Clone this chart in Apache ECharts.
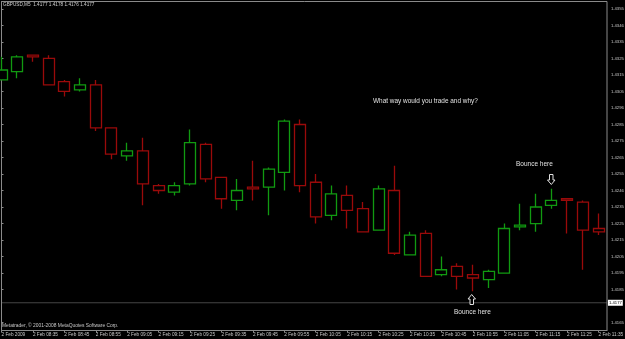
<!DOCTYPE html>
<html><head><meta charset="utf-8">
<script src="https://cdn.jsdelivr.net/npm/echarts@6/dist/echarts.min.js"></script>
<style>html,body{margin:0;padding:0;background:#000;}#c{width:625px;height:339px;}</style>
</head><body><div id="c"></div>
<script>
const times = ['08:25','08:30','08:35','08:40','08:45','08:50','08:55','09:00','09:05','09:10','09:15','09:20','09:25','09:30','09:35','09:40','09:45','09:50','09:55','10:00','10:05','10:10','10:15','10:20','10:25','10:30','10:35','10:40','10:45','10:50','10:55','11:00','11:05','11:10','11:15','11:20','11:25','11:30','11:35'];
const opens  = [1.4312,1.4317,1.4327,1.4325,1.4311,1.4306,1.4309,1.4283,1.4266,1.4269,1.4248,1.4244,1.4249,1.4273,1.4253,1.4239,1.4247,1.4247,1.4256,1.4285,1.4250,1.4230,1.4242,1.4234,1.4221,1.4245,1.4206,1.4219,1.4194,1.4199,1.4194,1.4191,1.4195,1.4223,1.4225,1.4236,1.4240,1.4238,1.4222];
const closes = [1.4318,1.4326,1.4326,1.4309,1.4305,1.4309,1.4283,1.4267,1.4269,1.4249,1.4245,1.4248,1.4274,1.4252,1.4240,1.4245,1.4246,1.4258,1.4287,1.4248,1.4229,1.4243,1.4233,1.4220,1.4246,1.4207,1.4218,1.4193,1.4197,1.4193,1.4192,1.4196,1.4222,1.4224,1.4235,1.4239,1.4239,1.4221,1.4220];
const lows   = [1.4312,1.4313,1.4323,1.4309,1.4302,1.4305,1.4281,1.4264,1.4263,1.4236,1.4243,1.4242,1.4248,1.4250,1.4234,1.4233,1.4239,1.4230,1.4245,1.4244,1.4225,1.4227,1.4222,1.4220,1.4221,1.4206,1.4206,1.4193,1.4193,1.4185,1.4184,1.4186,1.4195,1.4221,1.4220,1.4234,1.4219,1.4197,1.4218];
const highs  = [1.4326,1.4327,1.4327,1.4327,1.4312,1.4313,1.4312,1.4283,1.4274,1.4277,1.4249,1.4250,1.4282,1.4274,1.4253,1.4252,1.4263,1.4259,1.4288,1.4288,1.4255,1.4248,1.4248,1.4238,1.4248,1.4260,1.4220,1.4221,1.4205,1.4201,1.4200,1.4197,1.4225,1.4237,1.4243,1.4246,1.4240,1.4239,1.4231];
const xTickLabels = ['2 Feb 2009','2 Feb 08:35','2 Feb 08:45','2 Feb 08:55','2 Feb 09:05','2 Feb 09:15','2 Feb 09:25','2 Feb 09:35','2 Feb 09:45','2 Feb 09:55','2 Feb 10:05','2 Feb 10:15','2 Feb 10:25','2 Feb 10:35','2 Feb 10:45','2 Feb 10:55','2 Feb 11:05','2 Feb 11:15','2 Feb 11:25','2 Feb 11:35'];
const yTickValues = [1.4355,1.4345,1.4335,1.4325,1.4315,1.4305,1.4295,1.4285,1.4275,1.4265,1.4255,1.4245,1.4235,1.4225,1.4215,1.4205,1.4195,1.4185,1.4165];
const yTickLabels = ['1.4355','1.4346','1.4335','1.4325','1.4315','1.4305','1.4296','1.4285','1.4275','1.4265','1.4255','1.4246','1.4235','1.4225','1.4215','1.4205','1.4195','1.4185','1.4165'];
const currentPrice = 1.4177;
const titleText = 'GBPUSD,M5  1.4177 1.4178 1.4176 1.4177';

const X_MIN = 0, X_MAX = 38.54;
const data = times.map((t, i) => [i, opens[i], closes[i], lows[i], highs[i]]);
const xTickValues = xTickLabels.map((_, k) => k * 2);
const FF = '"Liberation Sans", Arial, sans-serif';
const chart = echarts.init(document.getElementById('c'), null, {renderer: 'canvas'});
chart.setOption({
  animation: false,
  backgroundColor: '#000',
  grid: {left: 1.5, top: 1.5, right: 18, bottom: 8.5, show: true, borderColor: '#8a8a8a', borderWidth: 1, backgroundColor: '#000', outerBoundsMode: 'none', containLabel: false},
  xAxis: {
    type: 'value', min: X_MIN, max: X_MAX,
    axisLine: {show: true, lineStyle: {color: '#8a8a8a'}},
    axisTick: {show: true, length: 2, lineStyle: {color: '#8a8a8a'}, customValues: xTickValues},
    axisLabel: {show: true, customValues: xTickValues, color: '#c8c8c8', fontSize: 4.7, fontFamily: FF, align: 'left', margin: 1.5,
      formatter: v => xTickLabels[Math.round(v / 2)] || ''},
    splitLine: {show: false}
  },
  yAxis: {
    type: 'value', position: 'right', scale: true, min: 1.41602, max: 1.43595,
    axisLine: {show: true, lineStyle: {color: '#8a8a8a'}},
    axisTick: {show: true, length: 2, lineStyle: {color: '#8a8a8a'}, customValues: yTickValues},
    axisLabel: {show: true, customValues: yTickValues, color: '#c8c8c8', fontSize: 4.2, fontFamily: FF, margin: 4,
      formatter: v => { const k = yTickValues.findIndex(t => Math.abs(t - v) < 1e-7); return k >= 0 ? yTickLabels[k] : ''; }},
    splitLine: {show: false}
  },
  series: [{
    type: 'candlestick',
    data: data,
    encode: {x: 0, y: [1, 2, 3, 4]},
    barWidth: 11.5,
    clip: true,
    z: 3,
    itemStyle: {color: '#000', color0: '#000', borderColor: '#119a11', borderColor0: '#9a0a0a', borderColorDoji: '#9a0a0a', borderWidth: 1.3}
  }, {
    type: 'line',
    data: [[X_MIN, currentPrice], [X_MAX, currentPrice]],
    showSymbol: false, symbol: 'none', silent: true, clip: false, z: 2,
    lineStyle: {color: '#8a8a8a', type: 'dotted', width: 1},
    endLabel: {show: true, distance: 1, formatter: () => currentPrice.toFixed(4), backgroundColor: '#fff', color: '#000', fontSize: 4.2, fontFamily: FF, padding: [1, 1]}
  }],
  graphic: [
    {type: 'text', x: 3, y: 5, style: {text: titleText, fill: '#d0d0d0', font: '4.7px ' + FF, align: 'left', verticalAlign: 'middle'}},
    {type: 'text', x: 373, y: 101, style: {text: 'What way would you trade and why?', fill: '#e0e0e0', font: '6.45px ' + FF, align: 'left', verticalAlign: 'middle'}},
    {type: 'text', x: 516, y: 164, style: {text: 'Bounce here', fill: '#e0e0e0', font: '6.5px ' + FF, align: 'left', verticalAlign: 'middle'}},
    {type: 'text', x: 454, y: 312.5, style: {text: 'Bounce here', fill: '#e0e0e0', font: '6.5px ' + FF, align: 'left', verticalAlign: 'middle'}},
    {type: 'text', x: 2, y: 326, style: {text: 'Metatrader, © 2001-2008 MetaQuotes Software Corp.', fill: '#c8c8c8', font: '4.9px ' + FF, align: 'left', verticalAlign: 'middle'}},
    {type: 'polygon', shape: {points: [[549.5,174.5],[553,174.5],[553,180],[555,180],[551.3,184.5],[547.5,180],[549.5,180]]}, style: {fill: 'none', stroke: '#e0e0e0', lineWidth: 1}},
    {type: 'polygon', shape: {points: [[471.7,294.5],[475.5,299],[473.5,299],[473.5,304.5],[470,304.5],[470,299],[468,299]]}, style: {fill: '#000', stroke: '#e0e0e0', lineWidth: 1}, z: 10}
  ]
});
</script></body></html>
